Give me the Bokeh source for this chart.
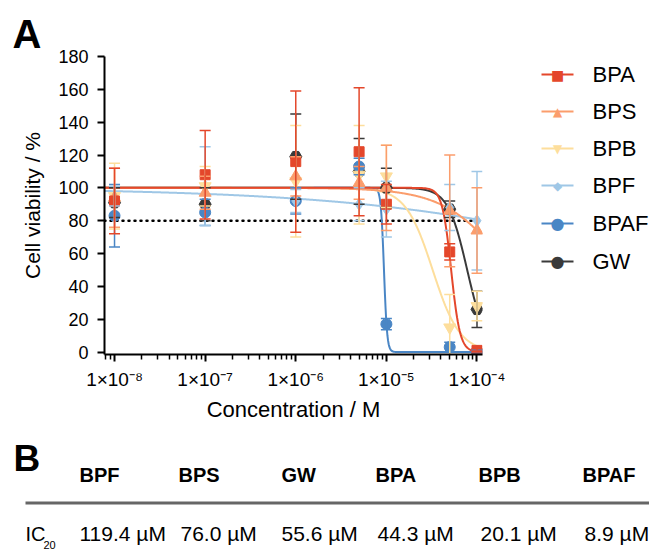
import numpy as np
from bokeh.plotting import figure
from bokeh.models import (ColumnDataSource, Whisker, TeeHead, FixedTicker, Range1d,
                          LinearScale, CustomJSTickFormatter)
from bokeh.core.properties import value
from bokeh.embed import file_html
from bokeh.resources import INLINE

# ---------------- data ----------------
concentration = [1e-8, 1e-7, 1e-6, 5e-6, 1e-5, 5e-5, 1e-4]   # M

series_names = ["BPA", "BPS", "BPB", "BPF", "BPAF", "GW"]
bpa_mean = [92, 108, 116, 122, 90, 61, 1]
bpa_sd = [20, 27, 43, 39, 12, 5, 1]
bps_mean = [94, 97, 107, 103, 100, 86, 74]
bps_sd = [18, 10, 12, 10, 26, 34, 26]
bpb_mean = [95, 101, 104, 108, 107, 15, 28]
bpb_sd = [20, 12, 34, 30, 19, 20, 9]
bpf_mean = [95, 101, 92, 90, 87, 88, 80]
bpf_sd = [6, 24, 7, 10, 17, 14, 30]
bpaf_mean = [83, 85, 92, 113, 17, 3, 0.5]
bpaf_sd = [19, 8, 8, 5, 3.5, 3, 1]
gw_mean = [91, 90, 119, 110, 100, 87, 26]
gw_sd = [9, 10, 26, 20, 12, 5, 11]

# fitted dose-response parameters (IC20 in µM from panel B, Hill slope estimated)
fit_ic20_uM = [44.3, 76.0, 20.1, 119.4, 8.9, 55.6]
fit_hill = [8.8, 1.24, 2.9, 0.265, 25.0, 4.1]
fit_top = 100.0
threshold = 80

y_ticks = [0, 20, 40, 60, 80, 100, 120, 140, 160, 180]
x_major = [1e-8, 1e-7, 1e-6, 1e-5, 1e-4]
x_minor = [k * 10.0 ** e for e in range(-9, -4) for k in range(2, 10)]

table_names = ["BPF", "BPS", "GW", "BPA", "BPB", "BPAF"]
table_ic20 = ["119.4 µM", "76.0 µM", "55.6 µM", "44.3 µM", "20.1 µM", "8.9 µM"]

# ---------------- style ----------------
colors = ["#E4472B", "#FB9D6C", "#FDDE9C", "#9FC7E6", "#4A86C5", "#3A3A3A"]
markers = ["square", "triangle", "inverted_triangle", "diamond", "circle", "hex"]
msizes = [10, 12, 12, 12, 11, 12]
legend_symbols = ["\u25a0", "\u25b2", "\u25bc", "\u25c6", "\u25cf", "\u25cf"]
legend_symbol_sizes = ["14px", "12px", "12px", "12px", "16px", "16px"]
FONT = "Liberation Sans"
W, H = 649, 555
FL, FR, FT, FB = 104, 482, 56, 354      # frame edges in page pixels

X0, X1 = 7.75e-9, 1.15e-4
p = figure(width=W, height=H, x_axis_type="log",
           x_range=Range1d(X0, X1), y_range=Range1d(-1.5, 180),
           output_backend="svg", toolbar_location=None,
           min_border_left=FL, min_border_right=W - FR, min_border_top=FT,
           min_border_bottom=H - FB)
p.outline_line_color = None
p.xgrid.grid_line_color = None
p.ygrid.grid_line_color = None
# page-pixel coordinate system (linear) for legend and texts around the chart
p.extra_x_ranges = {"px": Range1d(FL, FR)}
p.extra_x_scales = {"px": LinearScale()}
p.extra_y_ranges = {"py": Range1d(FB, FT)}
p.extra_y_scales = {"py": LinearScale()}
PX = dict(x_range_name="px", y_range_name="py", level="overlay")

means = [bpa_mean, bps_mean, bpb_mean, bpf_mean, bpaf_mean, gw_mean]
sds = [bpa_sd, bps_sd, bpb_sd, bpf_sd, bpaf_sd, gw_sd]

p.line([X0, concentration[-1]], [threshold, threshold], line_color="black",
       line_width=2.5, line_dash="1 5", line_cap="round")

order = [5, 4, 3, 2, 1, 0]
xfit = np.logspace(np.log10(X0), np.log10(concentration[-1]), 600)
for i in order:
    ic50 = fit_ic20_uM[i] * 1e-6 * 4.0 ** (1.0 / fit_hill[i])
    yfit = fit_top / (1.0 + (xfit / ic50) ** fit_hill[i])
    p.line(xfit, yfit, line_color=colors[i], line_width=2)
for i in order:
    m = np.array(means[i], dtype=float)
    s = np.array(sds[i], dtype=float)
    src = ColumnDataSource(dict(x=concentration, y=m, upper=m + s, lower=m - s))
    w = Whisker(base="x", upper="upper", lower="lower", source=src,
                line_color=colors[i], line_width=1.5, level="glyph",
                upper_head=TeeHead(size=11, line_color=colors[i], line_width=1.5),
                lower_head=TeeHead(size=11, line_color=colors[i], line_width=1.5))
    p.add_layout(w)
for i in order:
    m = np.array(means[i], dtype=float)
    src = ColumnDataSource(dict(x=concentration, y=m))
    p.scatter("x", "y", source=src, marker=markers[i], size=msizes[i],
              fill_color=colors[i], line_color=colors[i])

for ax in (p.xaxis[0], p.yaxis[0]):
    ax.axis_line_width = 2
    ax.axis_line_color = "black"
    ax.major_tick_line_width = 2
    ax.major_tick_out = 7
    ax.major_tick_in = 0
    ax.major_label_text_font = FONT
    ax.major_label_text_font_size = "18px"
    ax.major_label_text_color = "black"
    ax.axis_label_text_font = FONT
    ax.axis_label_text_font_size = "21px"
    ax.axis_label_text_font_style = "normal"
    ax.axis_label_text_color = "black"

p.yaxis.ticker = FixedTicker(ticks=y_ticks)
p.yaxis.minor_tick_line_color = None
p.yaxis.axis_label = "Cell viability / %"
p.yaxis.major_label_standoff = 9
p.yaxis.axis_label_standoff = 11

p.xaxis.ticker = FixedTicker(ticks=x_major, minor_ticks=x_minor)
p.xaxis.minor_tick_out = 5
p.xaxis.minor_tick_in = 0
p.xaxis.minor_tick_line_width = 1.5
p.xaxis.minor_tick_line_color = "black"
p.xaxis.major_label_text_font_size = "19px"
p.xaxis.major_label_standoff = 7
p.xaxis.axis_label = "Concentration / M"
p.xaxis.axis_label_text_font_size = "22px"
p.xaxis.axis_label_standoff = 4
p.xaxis.formatter = CustomJSTickFormatter(code="""
const sup = {'-':'\u207b','0':'\u2070','1':'\u00b9','2':'\u00b2','3':'\u00b3','4':'\u2074',
             '5':'\u2075','6':'\u2076','7':'\u2077','8':'\u2078','9':'\u2079'};
const e = Math.round(Math.log10(tick));
return '1\u00d710' + String(e).split('').map(c => sup[c]).join('');
""")

# ---------------- legend (drawn in page pixels, right of the chart) ----------------
leg_row_y = [74, 111, 148, 185, 223, 261]
leg_x0, leg_x1, leg_text_x = 541, 573, 592
leg_src = ColumnDataSource(dict(
    x0=[leg_x0] * 6, x1=[leg_x1] * 6, xm=[(leg_x0 + leg_x1) / 2] * 6, y=leg_row_y,
    color=colors, sym=legend_symbols, symsize=legend_symbol_sizes, label=series_names))
p.segment(x0="x0", y0="y", x1="x1", y1="y", line_color="color", line_width=2,
          source=leg_src, **PX)
p.text(x="xm", y="y", text="sym", text_font=value("DejaVu Sans"), text_font_size="symsize",
       text_color="color", text_align="center", text_baseline="middle", source=leg_src, **PX)
p.text(x=[leg_text_x] * 6, y=leg_row_y, text=series_names, text_font=value(FONT),
       text_font_size=value("22px"), text_baseline="middle", text_color="black", **PX)

# ---------------- panel letters and table B ----------------
TXT = dict(text_font=value(FONT), text_baseline="middle", text_color="black", **PX)
p.text(x=[12], y=[33], text=["A"], text_font_size=value("40px"), text_font_style="bold", **TXT)
p.text(x=[13], y=[458], text=["B"], text_font_size=value("37px"), text_font_style="bold", **TXT)
p.text(x=[79, 178, 281, 375, 478, 582], y=[474] * 6, text=table_names,
       text_font_size=value("20px"), text_font_style="bold", **TXT)
p.text(x=[79, 180, 281, 377, 480, 584], y=[533] * 6, text=table_ic20,
       text_font_size=value("21px"), **TXT)
p.text(x=[25], y=[533], text=["IC"], text_font_size=value("20px"), **TXT)
p.text(x=[43], y=[544], text=["20"], text_font_size=value("11px"), **TXT)
p.segment(x0=[25], y0=[502.5], x1=[W], y1=[502.5], line_color="#666666", line_width=3, **PX)

open("out.html", "w").write(file_html(p, INLINE))
